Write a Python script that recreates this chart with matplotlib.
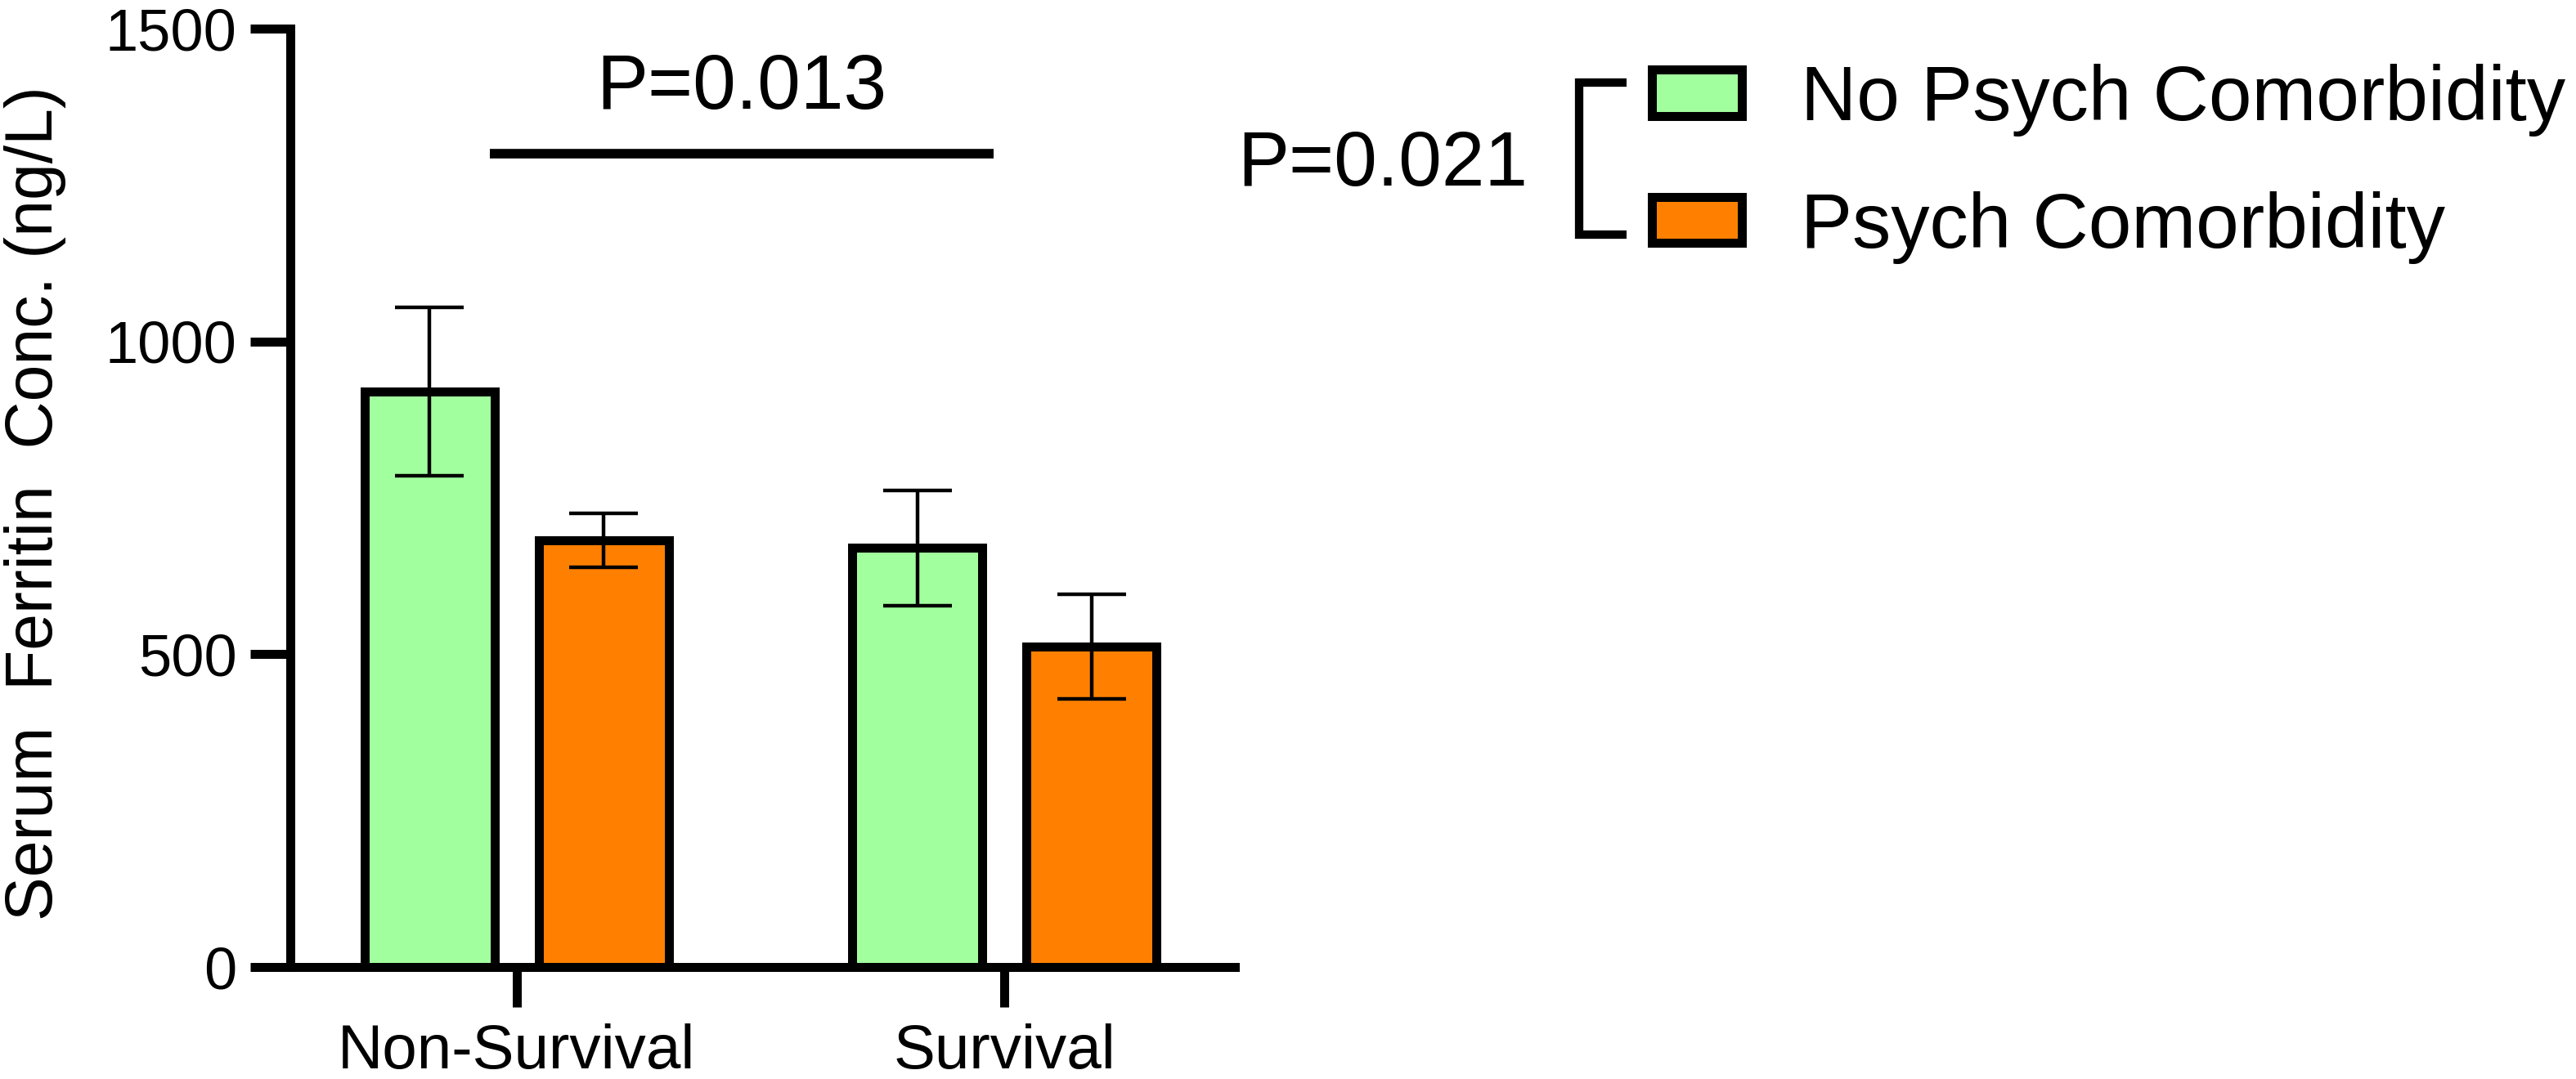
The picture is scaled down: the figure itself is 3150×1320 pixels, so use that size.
import matplotlib
matplotlib.use("Agg")
import matplotlib.pyplot as plt
from matplotlib.lines import Line2D
import numpy as np

plt.rcParams['font.family'] = ['Liberation Sans', 'DejaVu Sans']

# ---- data ----
categories = ["Non-Survival", "Survival"]
series_labels = ["No Psych Comorbidity", "Psych Comorbidity"]
no_psych_mean = [920, 670]
no_psych_err = [135, 92]
psych_mean = [682, 512]
psych_err = [43, 84]
yticks = [0, 500, 1000, 1500]
p_group = "P=0.013"
p_legend = "P=0.021"

green = "#A2FF9E"
orange = "#FF8000"

W, H = 3150, 1320
fig = plt.figure(figsize=(W / 100, H / 100), dpi=100)
ax = fig.add_axes([355 / W, 1 - 1183 / H, (1510 - 355) / W, (1183 - 35) / H])

x = np.arange(len(categories))
off = 0.1785
bw = 0.2666
elw = 7.9

b1 = ax.bar(x - off, no_psych_mean, width=bw, color=green, edgecolor="black",
            linewidth=elw, zorder=2, label=series_labels[0])
b2 = ax.bar(x + off, psych_mean, width=bw, color=orange, edgecolor="black",
            linewidth=elw, zorder=2, label=series_labels[1])
ax.errorbar(x - off, no_psych_mean, yerr=no_psych_err, fmt="none", ecolor="black",
            elinewidth=3.2, capsize=30, capthick=3.2, zorder=3)
ax.errorbar(x + off, psych_mean, yerr=psych_err, fmt="none", ecolor="black",
            elinewidth=3.2, capsize=30, capthick=3.2, zorder=3)

ax.set_xlim(-0.4635, 1.472)
ax.set_ylim(0, 1500)
ax.set_yticks(yticks)
ax.set_xticks(x)
ax.set_xticklabels(categories)
for s in ["top", "right"]:
    ax.spines[s].set_visible(False)
for s in ["left", "bottom"]:
    ax.spines[s].set_linewidth(7.9)
    ax.spines[s].set_capstyle("projecting")
ax.tick_params(axis="both", direction="out", length=35, width=7.9, color="black")
ax.tick_params(axis="y", labelsize=52, pad=12)
ax.tick_params(axis="x", labelsize=55, pad=15)

# significance line between groups
ax.plot([-0.054, 0.978], [1300, 1300], color="black", lw=8.4,
        solid_capstyle="butt", zorder=4)
ax.text(0.462, 1372, p_group, ha="center", va="baseline", fontsize=68)

# y label
fig.text(43 / W, 1 - 616 / H, "Serum  Ferritin  Conc. (ng/L)", rotation=90,
         ha="center", va="center", fontsize=58)

# legend
leg = ax.legend(handles=[b1, b2], labels=series_labels, loc="upper left",
                bbox_to_anchor=(2019.5 / W, 1 - 78 / H), bbox_transform=fig.transFigure,
                frameon=False, fontsize=68, handlelength=1.165, handleheight=0.54,
                handletextpad=0.77, labelspacing=0.705, borderpad=0, borderaxespad=0)

# bracket for legend p-value
bx = [1989 / W, 1931 / W, 1931 / W, 1989 / W]
by = [1 - 101 / H, 1 - 101 / H, 1 - 286.5 / H, 1 - 286.5 / H]
fig.add_artist(Line2D(bx, by, transform=fig.transFigure, color="black", lw=7.4,
                      solid_joinstyle="miter", solid_capstyle="butt"))
fig.text(1868 / W, 1 - 227 / H, p_legend, ha="right", va="baseline", fontsize=68)

fig.savefig("out.png", dpi=100)
